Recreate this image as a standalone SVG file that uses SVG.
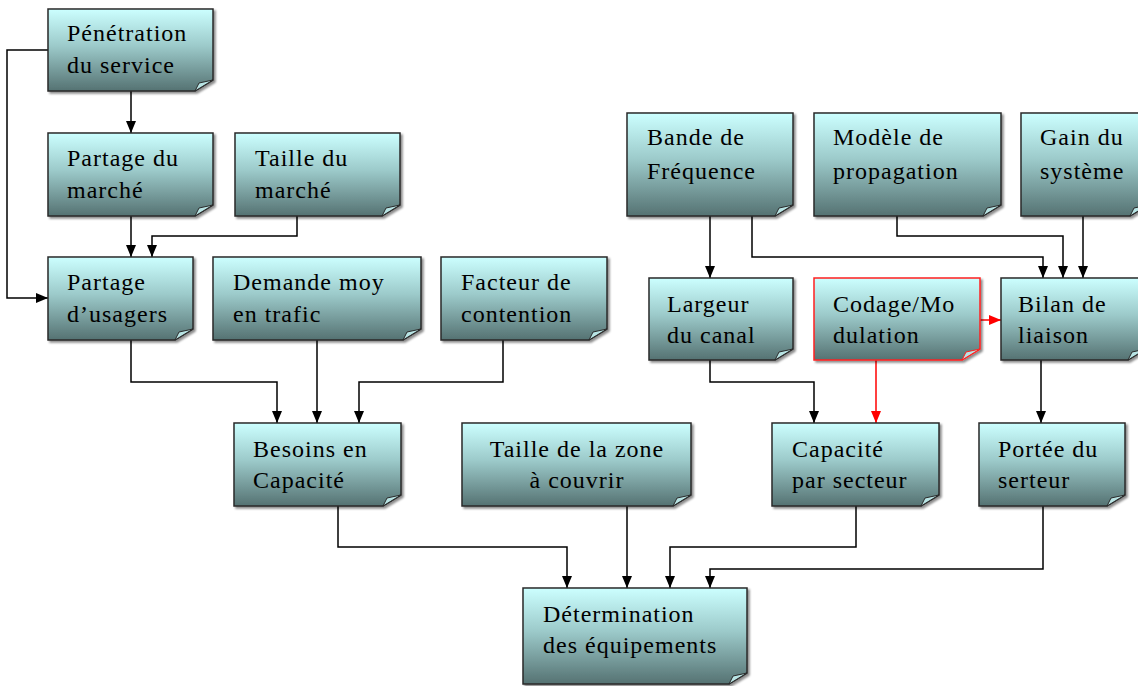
<svg xmlns="http://www.w3.org/2000/svg" width="1138" height="686" viewBox="0 0 1138 686">
<defs>
<linearGradient id="g" x1="0" y1="0" x2="0" y2="1">
<stop offset="0" stop-color="#ccffff"/>
<stop offset="0.45" stop-color="#9ccaca"/>
<stop offset="1" stop-color="#557272"/>
</linearGradient>
<filter id="sh" x="-10%" y="-10%" width="130%" height="130%">
<feDropShadow dx="2" dy="2" stdDeviation="1.2" flood-color="#000" flood-opacity="0.45"/>
</filter>
<marker id="ab" markerUnits="userSpaceOnUse" markerWidth="12" markerHeight="12" viewBox="0 0 12 12" refX="12" refY="6" orient="auto">
<path d="M0,1 L12,6 L0,11 z" fill="#000"/>
</marker>
<marker id="ar" markerUnits="userSpaceOnUse" markerWidth="12" markerHeight="12" viewBox="0 0 12 12" refX="12" refY="6" orient="auto">
<path d="M0,1 L12,6 L0,11 z" fill="#ff0000"/>
</marker>
</defs>
<style>
.box{fill:url(#g);stroke:#2a2a2a;stroke-width:1.5;filter:url(#sh)}
.red{stroke:#ff2020}
.flap{fill:#b8e4e4;stroke:#2a2a2a;stroke-width:1}
text{font-family:"Liberation Serif","Times New Roman",serif;font-size:24px;letter-spacing:1px;fill:#000}
.c{fill:none;stroke:#000;stroke-width:1.5;marker-end:url(#ab)}
.cr{fill:none;stroke:#ff0000;stroke-width:1.5;marker-end:url(#ar)}
.m{text-anchor:middle}
</style>
<rect width="1138" height="686" fill="#fff"/>

<g id="connectors">
<path class="c" d="M48,50 H7 V298 H48"/>
<path class="c" d="M131,91 V133"/>
<path class="c" d="M131,216 V257"/>
<path class="c" d="M297,216 V236 H152 V257"/>
<path class="c" d="M131,340 V382 H277 V423"/>
<path class="c" d="M317,340 V423"/>
<path class="c" d="M503,340 V382 H359 V423"/>
<path class="c" d="M710,216 V278"/>
<path class="c" d="M752,216 V257 H1043 V278"/>
<path class="c" d="M897,216 V236 H1063 V278"/>
<path class="c" d="M1083,216 V278"/>
<path class="cr" d="M980,320 H1001"/>
<path class="cr" d="M876,360 V423"/>
<path class="c" d="M710,360 V382 H814 V423"/>
<path class="c" d="M1041,360 V423"/>
<path class="c" d="M338,506 V547 H567 V588"/>
<path class="c" d="M627,506 V588"/>
<path class="c" d="M856,506 V547 H670 V588"/>
<path class="c" d="M1043,506 V569 H710 V588"/>
</g>

<g id="n-penetration">
<path class="box" d="M48,9 H213 V80 L195,91 H48 Z"/>
<path class="flap" d="M195,91 L213,80 L199,83 Z"/>
<text x="67" y="41">Pénétration</text>
<text x="67" y="73">du service</text>
</g>
<g id="n-partage-marche">
<path class="box" d="M48,133 H213 V205 L195,216 H48 Z"/>
<path class="flap" d="M195,216 L213,205 L199,208 Z"/>
<text x="67" y="166">Partage du</text>
<text x="67" y="198">marché</text>
</g>
<g id="n-taille-marche">
<path class="box" d="M235,133 H400 V205 L382,216 H235 Z"/>
<path class="flap" d="M382,216 L400,205 L386,208 Z"/>
<text x="255" y="166">Taille du</text>
<text x="255" y="198">marché</text>
</g>
<g id="n-partage-usagers">
<path class="box" d="M48,257 H193 V329 L175,340 H48 Z"/>
<path class="flap" d="M175,340 L193,329 L179,332 Z"/>
<text x="67" y="290">Partage</text>
<text x="67" y="322">d’usagers</text>
</g>
<g id="n-demande">
<path class="box" d="M213,257 H421 V329 L403,340 H213 Z"/>
<path class="flap" d="M403,340 L421,329 L407,332 Z"/>
<text x="233" y="290">Demande moy</text>
<text x="233" y="322">en trafic</text>
</g>
<g id="n-facteur">
<path class="box" d="M441,257 H607 V329 L589,340 H441 Z"/>
<path class="flap" d="M589,340 L607,329 L593,332 Z"/>
<text x="461" y="290">Facteur de</text>
<text x="461" y="322">contention</text>
</g>
<g id="n-bande">
<path class="box" d="M627,113 H793 V205 L775,216 H627 Z"/>
<path class="flap" d="M775,216 L793,205 L779,208 Z"/>
<text x="647" y="145">Bande de</text>
<text x="647" y="179">Fréquence</text>
</g>
<g id="n-modele">
<path class="box" d="M814,113 H1001 V205 L983,216 H814 Z"/>
<path class="flap" d="M983,216 L1001,205 L987,208 Z"/>
<text x="833" y="145">Modèle de</text>
<text x="833" y="179">propagation</text>
</g>
<g id="n-gain">
<path class="box" d="M1021,113 H1148 V205 L1130,216 H1021 Z"/>
<path class="flap" d="M1130,216 L1148,205 L1134,208 Z"/>
<text x="1040" y="145">Gain du</text>
<text x="1040" y="179">système</text>
</g>
<g id="n-largeur">
<path class="box" d="M649,278 H793 V349 L775,360 H649 Z"/>
<path class="flap" d="M775,360 L793,349 L779,352 Z"/>
<text x="667" y="312">Largeur</text>
<text x="667" y="343">du canal</text>
</g>
<g id="n-codage">
<path class="box red" d="M814,278 H980 V349 L962,360 H814 Z"/>
<path class="flap" style="stroke:#ff2020" d="M962,360 L980,349 L966,352 Z"/>
<text x="833" y="312">Codage/Mo</text>
<text x="833" y="343">dulation</text>
</g>
<g id="n-bilan">
<path class="box" d="M1001,278 H1146 V349 L1128,360 H1001 Z"/>
<path class="flap" d="M1128,360 L1146,349 L1132,352 Z"/>
<text x="1018" y="312">Bilan de</text>
<text x="1018" y="343">liaison</text>
</g>
<g id="n-besoins">
<path class="box" d="M234,423 H401 V495 L383,506 H234 Z"/>
<path class="flap" d="M383,506 L401,495 L387,498 Z"/>
<text x="253" y="457">Besoins en</text>
<text x="253" y="488">Capacité</text>
</g>
<g id="n-taille-zone">
<path class="box" d="M462,423 H691 V495 L673,506 H462 Z"/>
<path class="flap" d="M673,506 L691,495 L677,498 Z"/>
<text class="m" x="577" y="457">Taille de la zone</text>
<text class="m" x="577" y="488">à couvrir</text>
</g>
<g id="n-capacite">
<path class="box" d="M772,423 H939 V495 L921,506 H772 Z"/>
<path class="flap" d="M921,506 L939,495 L925,498 Z"/>
<text x="792" y="457">Capacité</text>
<text x="792" y="488">par secteur</text>
</g>
<g id="n-portee">
<path class="box" d="M979,423 H1125 V495 L1107,506 H979 Z"/>
<path class="flap" d="M1107,506 L1125,495 L1111,498 Z"/>
<text x="998" y="457">Portée du</text>
<text x="998" y="488">serteur</text>
</g>
<g id="n-determination">
<path class="box" d="M523,588 H747 V673 L729,684 H523 Z"/>
<path class="flap" d="M729,684 L747,673 L733,676 Z"/>
<text x="543" y="622">Détermination</text>
<text x="543" y="653">des équipements</text>
</g>
</svg>
